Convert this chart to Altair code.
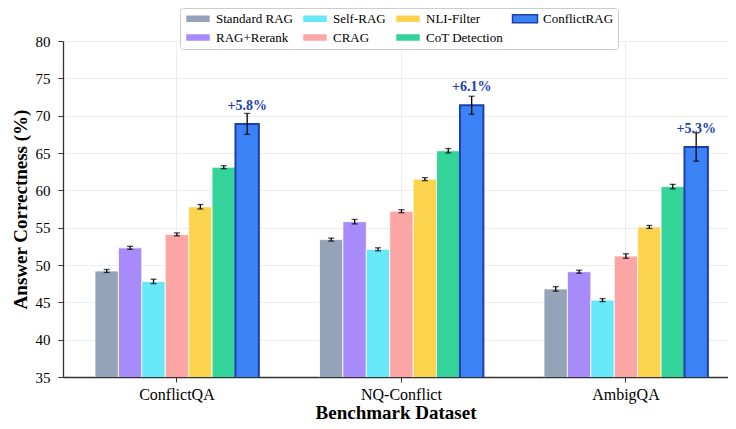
import altair as alt
import pandas as pd

datasets = ["ConflictQA", "NQ-Conflict", "AmbigQA"]
methods = ["Standard RAG", "RAG+Rerank", "Self-RAG", "CRAG", "NLI-Filter", "CoT Detection", "ConflictRAG"]
legend_order = ["Standard RAG", "Self-RAG", "NLI-Filter", "ConflictRAG", "RAG+Rerank", "CRAG", "CoT Detection"]
method_colors = {
    "Standard RAG": "#94a3b8",
    "RAG+Rerank": "#a78bfa",
    "Self-RAG": "#67e8f9",
    "CRAG": "#fca5a5",
    "NLI-Filter": "#fcd34d",
    "CoT Detection": "#34d399",
    "ConflictRAG": "#3b82f6",
}

standard_rag = [49.2, 53.4, 46.8]
rag_rerank = [52.3, 55.8, 49.1]
self_rag = [47.8, 52.1, 45.3]
crag = [54.1, 57.2, 51.2]
nli_filter = [57.8, 61.5, 55.1]
cot_detection = [63.1, 65.3, 60.5]
conflict_rag = [68.9, 71.4, 65.8]

standard_rag_err = [0.2, 0.2, 0.3]
rag_rerank_err = [0.2, 0.3, 0.2]
self_rag_err = [0.3, 0.2, 0.2]
crag_err = [0.2, 0.2, 0.3]
nli_filter_err = [0.3, 0.2, 0.2]
cot_detection_err = [0.2, 0.3, 0.3]
conflict_rag_err = [1.4, 1.2, 1.9]

gain_labels = ["+5.8%", "+6.1%", "+5.3%"]

series = {
    "Standard RAG": (standard_rag, standard_rag_err),
    "RAG+Rerank": (rag_rerank, rag_rerank_err),
    "Self-RAG": (self_rag, self_rag_err),
    "CRAG": (crag, crag_err),
    "NLI-Filter": (nli_filter, nli_filter_err),
    "CoT Detection": (cot_detection, cot_detection_err),
    "ConflictRAG": (conflict_rag, conflict_rag_err),
}

rows = []
for m in methods:
    vals, errs = series[m]
    for i, d in enumerate(datasets):
        rows.append({
            "dataset": d,
            "method": m,
            "value": vals[i],
            "err": errs[i],
            "label": gain_labels[i] if m == "ConflictRAG" else "",
        })
df = pd.DataFrame(rows)

FONT = "Liberation Serif"
YTITLE = "Answer Correctness (%)"

x_enc = alt.X(
    "dataset:N",
    sort=datasets,
    scale=alt.Scale(paddingInner=0.27, paddingOuter=0.116, align=0.614, round=False),
    axis=alt.Axis(
        title="Benchmark Dataset",
        labelAngle=0,
        labelFontSize=16,
        labelPadding=4,
        titlePadding=1,
        grid=True,
        bandPosition=0.5,
        ticks=True,
        tickSize=5,
    ),
)
xoff_enc = alt.XOffset("method:N", sort=methods, scale=alt.Scale(domain=methods, paddingInner=0, paddingOuter=0))

y_axis = alt.Axis(
    values=list(range(35, 81, 5)),
    labelFontSize=15,
    labelPadding=8,
    tickSize=5,
    titlePadding=5,
    grid=True,
)
y_scale = alt.Scale(domain=[35, 80], nice=False, zero=False)

legend = alt.Legend(
    title=None,
    orient="none",
    legendX=117,
    legendY=-33,
    columns=4,
    direction="horizontal",
    labelFont=FONT,
    labelFontSize=13,
    labelOffset=19,
    symbolType="M-1,-0.8H4V0.8H-1Z",
    symbolSize=100,
    symbolStrokeWidth=1.5,
    columnPadding=6,
    rowPadding=4,
    padding=4,
    strokeColor="#cccccc",
    fillColor="white",
    cornerRadius=3,
)

base = alt.Chart(df)

bars = base.mark_bar(clip=True).encode(
    x=x_enc,
    xOffset=xoff_enc,
    y=alt.Y("value:Q", scale=y_scale, axis=y_axis, title=YTITLE),
    fill=alt.Fill(
        "method:N",
        scale=alt.Scale(domain=legend_order, range=[method_colors[m] for m in legend_order]),
        legend=legend,
    ),
    stroke=alt.Stroke(
        "method:N",
        scale=alt.Scale(domain=legend_order, range=["#1e40af" if m == "ConflictRAG" else "white" for m in legend_order]),
        legend=legend,
    ),
    strokeWidth=alt.condition("datum.method === 'ConflictRAG'", alt.value(2), alt.value(0.8)),
)

err_base = base.transform_calculate(lo="datum.value - datum.err", hi="datum.value + datum.err")

rules = err_base.mark_rule(color="black", strokeWidth=1.3).encode(
    x=x_enc,
    xOffset=xoff_enc,
    y=alt.Y("lo:Q", scale=y_scale, axis=y_axis, title=YTITLE),
    y2="hi:Q",
)
caps_lo = err_base.mark_tick(color="black", size=6, thickness=1.3).encode(
    x=x_enc,
    xOffset=xoff_enc,
    y=alt.Y("lo:Q", scale=y_scale, axis=y_axis, title=YTITLE),
)
caps_hi = err_base.mark_tick(color="black", size=6, thickness=1.3).encode(
    x=x_enc,
    xOffset=xoff_enc,
    y=alt.Y("hi:Q", scale=y_scale, axis=y_axis, title=YTITLE),
)
labels = base.transform_filter(alt.datum.method == "ConflictRAG").mark_text(
    baseline="alphabetic", dy=-14, font=FONT, fontWeight="bold", fontSize=14, color="#1e40af"
).encode(
    x=x_enc,
    xOffset=xoff_enc,
    y=alt.Y("value:Q", scale=y_scale, axis=y_axis, title=YTITLE),
    text="label:N",
)

chart = alt.layer(bars, rules, caps_lo, caps_hi, labels).properties(
    width=665,
    height=336,
    autosize=alt.AutoSizeParams(type="none"),
    padding={"left": 55, "top": 33, "right": 0, "bottom": 44},
).configure_view(stroke=None).configure_axis(
    labelFont=FONT,
    titleFont=FONT,
    labelColor="black",
    titleColor="black",
    titleFontSize=19,
    titleFontWeight="bold",
    domainColor="#333333",
    domainWidth=1.3,
    tickColor="#333333",
    gridColor="#e8e8e8",
    gridWidth=0.8,
).configure_legend(
    labelFont=FONT,
    labelColor="black",
)

chart.save("out.html", embed_options={"renderer": "svg", "actions": False})
